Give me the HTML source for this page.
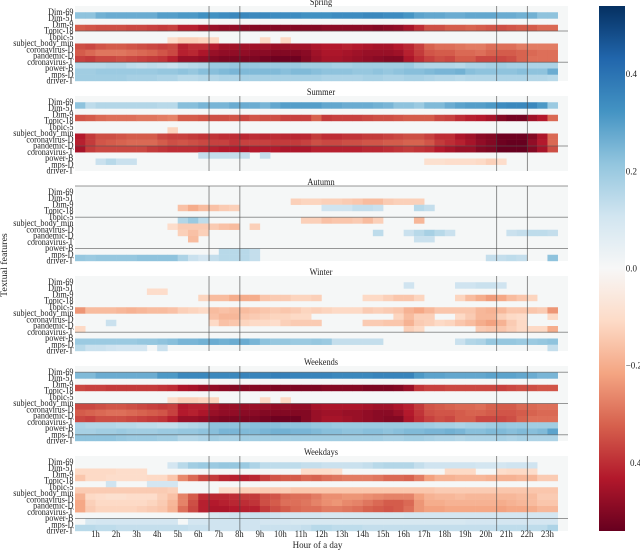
<!DOCTYPE html>
<html>
<head>
<meta charset="utf-8">
<style>
html,body{margin:0;padding:0;background:#fff;width:640px;height:550px;overflow:hidden}
svg{display:block}
text{font-family:"Liberation Serif",serif;fill:#222}
</style>
</head>
<body>
<svg id="chart" width="640" height="550" viewBox="0 0 640 550">
<defs>
<linearGradient id="cbar" x1="0" y1="1" x2="0" y2="0"></linearGradient>
</defs>
<g id="panels"></g>
<rect x="599" y="6" width="26" height="525" fill="url(#cbar)"></rect>
<g id="cbarTicks"></g>
<text transform="translate(7,297) rotate(-90) scale(1.05,1)" font-size="9.5">Textual features</text>
<text transform="translate(317.5,548) scale(.95,1)" font-size="9.5" text-anchor="middle">Hour of a day</text>
</svg>
<script>
// Values are in hundredths; red is negative, blue is positive. Empty rows or 0 mean no significant cell.
const features = ["Dim-69","Dim-51","Dim-9","Topic-18","Topic-5","subject_body_min","coronavirus-D","pandemic-D","coronavirus-T","power-B","mps-D","driver-T"];
const hourTicks = [1,2,3,4,5,6,7,8,9,10,11,12,13,14,15,16,17,18,19,20,21,22,23];
const markerHours = [6.5,8,20.5,22];
const colorbarTicks = [0.4,0.2,0,-0.2,-0.4];
const colorbarTickLabels = ["0.4","0.2","0.0","\u22120.2","0.4"];
const titles = ["Spring","Summer","Autumn","Winter","Weekends","Weekdays"];
const springLines = [4,9];
const summerLines = [8];
const autumnLines = [0,5,10];
const winterLines = [9];
const weekendLines = [1,6,11];
const weekdayLines = [10];

const spring = [
[],
[22,22,26,27,27,27,27,27,30,30,31,31,33,33,34,35,35,35,35,34,34,34,33,33,33,34,34,34,35,35,34,34,32,29,28,28,27,27,28,28,28,27,27,26,26,22,22],
[],
[-33,-34,-35,-35,-35,-36,-36,-37,-38,-37,-42,-42,-45,-47,-48,-48,-49,-50,-50,-50,-50,-50,-50,-50,-49,-49,-49,-49,-49,-50,-49,-48,-45,-40,-35,-35,-33,-33,-32,-33,-34,-35,-34,-33,-33,-31,-31],
[],
[0,0,0,0,0,0,0,0,0,-10,-13,-13,-12,-11,0,0,0,0,-11,0,-11],
[-35,-36,-34,-33,-33,-34,-35,-36,-37,-36,-42,-40,-40,-43,-46,-46,-46,-46,-46,-47,-47,-46,-46,-44,-43,-43,-42,-43,-44,-45,-45,-43,-41,-37,-32,-30,-30,-29,-28,-28,-30,-30,-30,-28,-28,-28,-28],
[-33,-31,-29,-29,-29,-30,-31,-32,-34,-36,-42,-41,-44,-47,-48,-48,-48,-49,-49,-50,-50,-50,-49,-46,-44,-44,-45,-46,-47,-47,-47,-46,-42,-38,-34,-33,-33,-31,-31,-30,-32,-33,-33,-32,-31,-30,-30],
[-37,-38,-36,-36,-35,-36,-37,-38,-39,-42,-47,-47,-48,-50,-51,-51,-51,-51,-52,-53,-53,-53,-50,-47,-45,-45,-46,-47,-48,-49,-50,-50,-44,-40,-37,-35,-36,-33,-33,-36,-36,-36,-35,-32,-30,-30,-30],
[15,15,15,16,16,14,13,14,13,12,14,15,16,20,20,21,21,21,20,20,20,20,19,19,19,18,18,19,19,19,19,19,20,17,16,16,16,15,17,17,18,19,18,18,17,17,17],
[19,19,20,20,20,20,20,20,21,21,22,21,23,23,24,25,24,24,24,24,23,24,24,23,22,22,22,21,21,22,21,22,23,23,24,25,25,26,23,22,22,22,22,23,22,22,27],
[19,19,19,19,19,18,18,18,17,17,15,15,16,16,17,17,18,18,18,18,18,18,18,18,17,17,17,17,18,18,17,17,18,18,17,16,16,15,16,16,16,17,17,17,16,16,15]
];
const summer = [
[],
[22,14,16,16,16,16,16,16,15,15,23,23,25,25,25,27,27,27,25,28,30,30,30,30,28,28,27,27,27,26,25,22,22,20,24,24,27,29,30,30,31,34,35,35,35,31,20],
[],
[-34,-33,-31,-30,-30,-30,-29,-29,-28,-27,-33,-33,-34,-35,-35,-34,-36,-34,-35,-35,-37,-37,-37,-32,-38,-37,-37,-37,-36,-35,-35,-34,-33,-33,-33,-36,-37,-40,-42,-43,-45,-50,-52,-52,-46,-43,-31],
[],
[0,0,0,0,0,0,0,0,0,-12],
[-43,-38,-35,-35,-34,-33,-33,-33,-36,-37,-37,-38,-39,-39,-40,-40,-41,-40,-41,-40,-41,-41,-41,-38,-40,-40,-39,-39,-38,-38,-37,-36,-35,-35,-37,-40,-40,-44,-46,-49,-50,-53,-53,-53,-50,-44,-31],
[-42,-38,-34,-33,-32,-31,-31,-31,-33,-35,-34,-35,-36,-37,-37,-39,-37,-37,-37,-38,-38,-38,-37,-35,-36,-36,-35,-35,-34,-34,-33,-33,-32,-32,-34,-38,-40,-42,-45,-48,-50,-53,-54,-54,-48,-43,-31],
[-45,-38,-36,-36,-36,-36,-36,-38,-39,-40,-40,-40,-41,-42,-43,-43,-44,-43,-43,-43,-44,-44,-44,-42,-42,-42,-42,-42,-41,-41,-40,-39,-38,-39,-40,-43,-45,-47,-47,-50,-51,-54,-54,-54,-50,-45,-35],
[0,0,0,0,0,0,0,0,0,0,0,0,13,13,13,13,13,0,13],
[0,0,12,15,12,12,0,0,0,0,0,0,0,0,0,0,0,0,0,0,0,0,0,0,0,0,0,0,0,0,0,0,0,0,-9,-9,-10,-10,-10,-11,-13,-10],
[]
];
const autumn = [
[],
[],
[0,0,0,0,0,0,0,0,0,0,0,0,0,0,0,0,0,0,0,0,0,-13,-12,-12,-13,-13,-14,-15,-17,-17,-14,-13,-13,-13],
[0,0,0,0,0,0,0,0,0,0,-16,-20,-17,-16,-14,-13,0,0,0,0,0,0,0,0,11,11,11,13,13,12,0,0,0,15,13],
[],
[0,0,0,0,0,0,0,0,0,0,16,20,14,0,0,0,0,0,0,0,0,0,-13,-13,-16,-15,-15,-14,-17,-13,0,0,0,-18],
[0,0,0,0,0,0,0,0,0,-10,-14,-14,-14,-14,-16,-17,0,-13],
[0,0,0,0,0,0,0,0,0,0,-13,-16,-13,0,0,0,0,0,0,0,0,0,0,0,0,0,0,0,0,14,0,0,12,15,18,15,12,0,0,0,0,0,12,13,14,14,13],
[0,0,0,0,0,0,0,0,0,0,0,-17,0,0,0,0,0,0,0,0,0,0,0,0,0,0,0,0,0,0,0,0,0,12,12],
[],
[0,0,0,0,0,0,0,0,0,0,0,0,0,0,15,15,15,13],
[21,20,21,21,21,21,22,22,22,22,17,12,10,13,15,15,15,13,0,0,0,0,0,0,0,0,0,0,0,0,0,0,0,0,0,0,0,0,0,0,13,13,14,13,0,0,22]
];
const winter = [
[],
[0,0,0,0,0,0,0,0,0,0,0,0,0,0,0,0,0,0,0,0,0,0,0,0,0,0,0,0,0,0,0,0,11,0,0,0,0,11,11,12,12,11],
[0,0,0,0,0,0,0,-10,-10],
[0,0,0,0,0,0,0,0,0,0,0,0,-12,-17,-17,-20,-20,-20,-15,-14,-14,-12,-12,-13,0,0,0,0,-11,-11,-13,-15,-15,-12,0,0,0,-12,-17,-20,-23,-21,-17,-15,-12],
[],
[-24,-17,-17,-17,-18,-19,-18,-17,-17,-16,-13,-12,-11,-17,-16,-17,-17,-16,-15,-14,-15,-14,-12,-13,-12,-11,-11,-11,-14,-13,-14,-15,-19,-21,-18,-15,-15,-15,-15,-18,-19,-18,-15,-15,-15,-14,-24],
[0,0,0,0,0,0,0,0,0,0,0,0,0,-16,-18,-18,-15,-14,-13,-12,-12,-11,-11,0,0,0,0,0,0,0,0,-12,-17,-13,-13,0,0,-11,-14,-18,-18,-13,-11,-10,0,0,-11],
[0,0,0,12,0,0,0,0,0,0,0,0,0,-11,-16,-15,-12,-11,-11,-10,-13,-14,-14,-14,0,0,0,0,-14,-14,-15,-15,-19,-14,-13,-11,-12,-15,-17,-20,-22,-19,-14,-11],
[-11,0,0,0,0,0,0,0,0,0,0,0,0,0,0,0,0,0,0,0,0,0,0,0,0,0,0,0,0,0,0,0,-13,-11,0,0,0,0,0,-14,-15,-15,-13,-11,-11,-11,-20],
[],
[20,20,20,20,20,20,21,21,22,23,25,25,26,27,26,27,27,25,22,21,21,20,20,21,20,13,13,13,13,13,0,0,0,0,0,0,0,12,16,17,21,21,21,20,20,21,22],
[15,12,12,11,10,10,10,0,12,0,0,0,0,0,0,0,0,0,0,0,0,0,0,0,0,0,0,0,0,0,0,0,0,0,0,0,0,0,0,0,0,0,0,0,0,0,13]
];
const weekends = [
[],
[24,24,27,27,27,27,27,27,31,31,35,35,35,35,35,35,36,36,36,37,37,36,36,36,36,35,35,35,35,36,36,36,36,31,29,29,28,28,28,28,29,29,29,28,27,25,25],
[],
[-36,-37,-37,-38,-38,-38,-38,-38,-39,-40,-44,-45,-47,-48,-49,-50,-50,-50,-50,-51,-51,-51,-51,-51,-50,-50,-50,-50,-51,-51,-51,-50,-47,-39,-37,-37,-36,-36,-36,-36,-36,-37,-36,-35,-35,-34,-34],
[],
[0,0,0,0,0,0,0,0,0,-10,-13,-13,-12,-12,0,0,0,0,-11,0,-11],
[-36,-36,-35,-34,-34,-35,-36,-37,-38,-37,-43,-42,-42,-45,-47,-47,-47,-47,-47,-48,-48,-48,-48,-45,-44,-44,-44,-44,-45,-46,-46,-44,-42,-38,-34,-33,-32,-31,-31,-30,-32,-33,-33,-31,-31,-30,-30],
[-33,-32,-31,-30,-30,-31,-32,-33,-34,-37,-43,-42,-44,-47,-48,-48,-49,-49,-50,-50,-50,-50,-50,-47,-46,-46,-47,-47,-48,-49,-49,-47,-43,-39,-35,-34,-34,-33,-32,-32,-33,-34,-34,-33,-32,-31,-31],
[-36,-37,-35,-35,-35,-36,-37,-38,-39,-42,-47,-47,-48,-50,-51,-51,-51,-51,-52,-53,-53,-53,-50,-47,-45,-45,-46,-47,-48,-49,-50,-50,-44,-40,-37,-35,-36,-33,-33,-36,-36,-36,-35,-32,-30,-30,-30],
[17,16,16,16,15,15,14,14,13,13,15,16,17,22,22,22,22,23,23,23,22,22,22,21,21,20,20,20,20,20,20,20,20,20,19,18,18,17,18,18,19,21,20,20,19,19,19],
[18,18,19,19,20,19,19,19,20,20,21,21,22,23,25,25,24,24,25,26,26,25,25,24,23,23,22,22,23,23,22,23,24,24,25,25,26,25,23,23,24,24,23,24,23,24,29],
[22,22,22,22,21,20,20,20,19,19,16,16,17,19,18,18,19,19,19,19,19,19,19,19,19,19,19,19,19,19,18,18,19,19,18,17,17,16,17,17,17,18,17,18,17,17,17]
];
const weekdays = [
[],
[0,0,0,0,0,0,0,0,0,10,15,19,20,20,21,21,20,17,14,14,14,14,13,13,12,12,12,12,13,15,16,16,16,13,11,11,11,11,11,10,10,10,11,11,11],
[-11,-11,-11,-11,-10,-10,-10,0,0,0,0,0,0,0,0,0,0,0,0,0,0,0,-10,-10,-10,-9,0,0,0,0,0,0,0,0,0,0,-11,-11,-11,0,0,-10,-11,-11,-10],
[-15,-11,-11,-10,-10,-10,-10,-11,-11,-15,-26,-31,-36,-38,-41,-42,-42,-41,-37,-34,-33,-33,-31,-32,-30,-29,-28,-28,-28,-29,-31,-31,-32,-28,-22,-19,-19,-18,-18,-18,-19,-19,-19,-18,-18,-14,-14],
[0,0,0,11,0,0,0,10,10,10],
[-14,-14,-14,-14,-14,-14,-14,-14,-14,-13,0,0,0,0,-10,-10,-13,-13,-14,-14,-14,-15,-15,-15,-15,-15,-15,-15,-15,-15,-15,-15,-15,-15,-15,-14,-14,-14,-14,-14,-14,-15,-15,-15,-15,-15,-15],
[-19,-11,-10,-9,-9,-10,-10,-10,-13,-16,-27,-33,-40,-41,-41,-40,-38,-38,-35,-34,-31,-30,-30,-28,-25,-25,-24,-24,-25,-26,-27,-27,-27,-22,-19,-18,-18,-17,-18,-18,-18,-18,-18,-17,-17,-14,-14],
[-21,-13,-11,-11,-11,-11,-11,-12,-14,-18,-27,-35,-42,-43,-42,-41,-40,-39,-35,-33,-30,-30,-29,-27,-25,-24,-26,-27,-29,-31,-33,-33,-31,-24,-20,-20,-19,-19,-19,-19,-19,-20,-19,-18,-17,-15,-15],
[-21,-14,-12,-12,-12,-12,-13,-14,-15,-19,-30,-36,-42,-44,-44,-43,-42,-42,-38,-35,-33,-31,-30,-30,-28,-28,-29,-30,-32,-33,-34,-33,-30,-24,-22,-22,-21,-21,-21,-21,-21,-22,-21,-21,-20,-18,-18],
[0,0,0,0,0,0,0,0,0,0,0,0,0,9,10,11,11,12,12,11,10,10,10,10,9,9,9,9,9,9,9,9,10,10,10,10,10,10,10,10,10,10,10,10,10,10,10],
[0,9,10,10,10,10,10,10,10,10,0,10,10,11,11,11,11,11,10,10,10,9,9,9,9,9,9,9,9,9,9,9,9,9,9,9,9,9,10,10,10,10,10,10,10,10,10],
[15,15,14,14,13,13,13,13,13,13,13,12,12,11,11,11,11,11,12,12,12,12,13,15,15,14,14,14,13,13,13,13,13,13,13,13,13,13,13,13,13,14,14,14,14,14,17]
];
const panelData = [spring,summer,autumn,winter,weekends,weekdays];
const panelLines = [springLines,summerLines,autumnLines,winterLines,weekendLines,weekdayLines];
const cmap = ["#67001f","#b2182b","#d6604d","#f4a582","#fddbc7","#f7f7f7","#d1e5f0","#92c5de","#4393c3","#2166ac","#053061"];

const SVGNS = "http://www.w3.org/2000/svg";
const plotLeft = 75, plotRight = 568, panelTop = 6, panelPitch = 90, panelH = 75;
const vMax = 0.54, rowCount = 12, hourSpan = 24;
const xHour = h => plotLeft + (plotRight - plotLeft) * h / hourSpan;
const yRow = (p, r) => panelTop + panelPitch * p + panelH * r / rowCount;
const cbarY = v => 6 + 525 * (vMax - v) / (2 * vMax);
function hex(c){return [1,3,5].map(i => parseInt(c.substr(i,2),16));}
function colorFor(v){
  let t = (v + vMax) / (2 * vMax) * 10;
  t = Math.max(0, Math.min(10, t));
  const i = Math.min(9, Math.floor(t)), f = t - i;
  const a = hex(cmap[i]), b = hex(cmap[i+1]);
  return "rgb(" + a.map((x,k) => Math.round(x + (b[k]-x)*f)).join(",") + ")";
}
function make(tag, attrs, parent){
  const el = document.createElementNS(SVGNS, tag);
  for (const k in attrs) el.setAttribute(k, attrs[k]);
  parent.appendChild(el);
  return el;
}
const root = document.getElementById("panels");
panelData.forEach((rows, p) => {
  const g = make("g", {}, root);
  
  
  const bg = make("rect", {x:plotLeft, y:yRow(p,0), width:plotRight-plotLeft, height:panelH, fill:"#f5f7f7"}, g);
  
  
  rows.forEach((vals, r) => {
    vals.forEach((val, c) => {
      if (!val) return;
      const cell = make("rect", {x:xHour(c/2), y:yRow(p,r), width:xHour(0.5)-plotLeft+0.25, height:panelH/rowCount+0.2, fill:colorFor(val/100)}, g);
      
      
    });
  });
  panelLines[p].forEach(r => {
    const ln = make("line", {x1:plotLeft, x2:plotRight, y1:yRow(p,r), y2:yRow(p,r), stroke:"#555", "stroke-opacity":0.6, "stroke-width":1}, g);
    
    
  });
  markerHours.forEach(h => {
    const ln = make("line", {x1:xHour(h)+0.5, x2:xHour(h)+0.5, y1:yRow(p,0), y2:yRow(p,rowCount), stroke:"#444", "stroke-opacity":0.6, "stroke-width":1}, g);
    
    
  });
  const title = make("text", {transform:"translate(321," + (yRow(p,0)-1) + ") scale(.88,1)", "font-size":9.5, "text-anchor":"middle"}, g);
  title.textContent = titles[p];
  
  
  features.forEach((f, r) => {
    const t = make("text", {transform:"translate(73.5," + (yRow(p,r+1)+2.6) + ") scale(.86,1)", "font-size":9.5, "text-anchor":"end"}, g);
    t.textContent = f;
    
    
  });
});
hourTicks.forEach(h => {
  const t = make("text", {transform:"translate(" + xHour(h) + ",537) scale(.9,1)", "font-size":9.5, "text-anchor":"middle"}, root);
  t.textContent = h + "h";
  
  
});
const grad = document.getElementById("cbar");
cmap.forEach((c, i) => {
  make("stop", {offset:(i*10)+"%", "stop-color":c}, grad);
});
const tickGroup = document.getElementById("cbarTicks");
colorbarTicks.forEach((v, i) => {
  const label = colorbarTickLabels[i];
  const t = make("text", {x: i === 4 ? 630 : 625.7, y: cbarY(v) + 3, "font-size":9}, tickGroup);
  t.textContent = label;
  
  
});
</script>
</body>
</html>
